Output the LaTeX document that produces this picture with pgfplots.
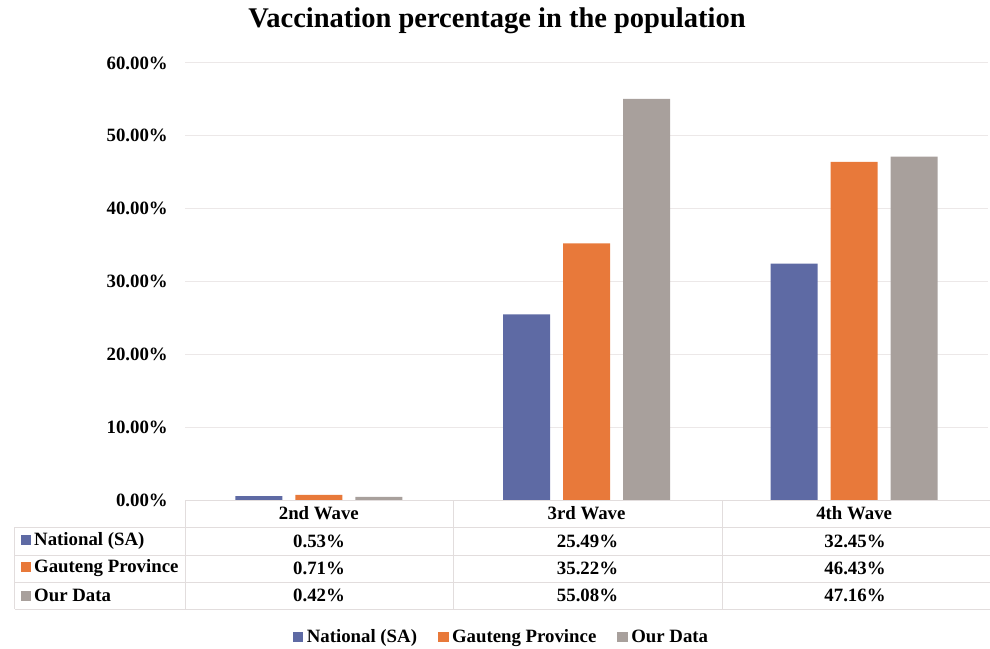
\documentclass[border=0pt]{standalone}
\usepackage{pgfplots}
\pgfplotsset{compat=1.18}
\usepackage{fontspec}
\setmainfont{Liberation Serif}
\definecolor{cBlue}{HTML}{5E6AA4}
\definecolor{cOrange}{HTML}{E8793A}
\definecolor{cGray}{HTML}{A8A09C}
\definecolor{cGrid}{HTML}{ECE8E8}
\definecolor{cLine}{HTML}{E2DDDD}
\newcommand{\lab}{\fontsize{18.8}{20}\selectfont\bfseries}
\begin{document}
\begin{tikzpicture}
\begin{axis}[
  at={(0pt,0pt)}, anchor=south west,
  scale only axis, width=803pt, height=437pt,
  xmin=-0.5, xmax=2.5, ymin=0, ymax=60,
  ybar=13pt, bar width=47pt,
  axis line style={draw=none},
  major tick length=0pt,
  ytick={0,10,...,60},
  ymajorgrids, grid style={cGrid, line width=1pt},
  yticklabel={\pgfmathprintnumber[fixed,fixed zerofill,precision=2,assume math mode=true]{\tick}\%},
  yticklabel style={font=\lab, anchor=east, inner sep=0pt, xshift=-17pt},
  xtick={0,1,2},
  xticklabels={2nd Wave,3rd Wave,4th Wave},
  xticklabel style={font=\lab, anchor=center, inner sep=0pt, yshift=-13pt},
  legend columns=3,
  legend style={at={(rel axis cs:0.3935,-0.3135)}, anchor=center, draw=none, fill=none,
    font=\lab, inner sep=0pt,
    /tikz/every even column/.append style={column sep=20pt},
    /tikz/every odd column/.append style={column sep=2.5pt},
    nodes={inner sep=1pt}},
]
\addplot[fill=cBlue, draw=none, legend image code/.code={\fill[cBlue] (0pt,-5pt) rectangle (10.5pt,5.5pt);}]
  coordinates {(0,0.53) (1,25.49) (2,32.45)};
\addplot[fill=cOrange, draw=none, legend image code/.code={\fill[cOrange] (0pt,-5pt) rectangle (10.5pt,5.5pt);}]
  coordinates {(0,0.71) (1,35.22) (2,46.43)};
\addplot[fill=cGray, draw=none, legend image code/.code={\fill[cGray] (0pt,-5pt) rectangle (10.5pt,5.5pt);}]
  coordinates {(0,0.42) (1,55.08) (2,47.16)};
\legend{National (SA),Gauteng Province,Our Data}
\end{axis}
\begin{scope}[shift={(-185pt,500pt)}, x=1pt, y=-1pt]
  % table lines
  \draw[cLine, line width=1pt] (185,500) -- (990,500);
  \foreach \yy in {527,555,582,609} \draw[cLine, line width=1pt] (15,\yy) -- (990,\yy);
  \draw[cLine, line width=1pt] (15,527) -- (15,609);
  \foreach \xx in {185,453,722} \draw[cLine, line width=1pt] (\xx,500) -- (\xx,609);
  % row labels
  \node[anchor=west, font=\lab, inner sep=0pt] at (21,541) {\textcolor{cBlue}{\rule[0.5pt]{10pt}{10pt}}\hspace{3pt}National (SA)};
  \node[anchor=west, font=\lab, inner sep=0pt] at (21,568.5) {\textcolor{cOrange}{\rule[0.5pt]{10pt}{10pt}}\hspace{3pt}Gauteng Province};
  \node[anchor=west, font=\lab, inner sep=0pt] at (21,595.5) {\textcolor{cGray}{\rule[0.5pt]{10pt}{10pt}}\hspace{3pt}Our Data};
  % values
  \node[font=\lab] at (319,541) {0.53\%};
  \node[font=\lab] at (587.5,541) {25.49\%};
  \node[font=\lab] at (855,541) {32.45\%};
  \node[font=\lab] at (319,568.5) {0.71\%};
  \node[font=\lab] at (587.5,568.5) {35.22\%};
  \node[font=\lab] at (855,568.5) {46.43\%};
  \node[font=\lab] at (319,595.5) {0.42\%};
  \node[font=\lab] at (587.5,595.5) {55.08\%};
  \node[font=\lab] at (855,595.5) {47.16\%};
  % title
  \node[font=\fontsize{28.5}{30}\selectfont\bfseries] at (497,21) {Vaccination percentage in the population};
\end{scope}
\pgfresetboundingbox
\path[use as bounding box] (-185pt,-148pt) rectangle (805pt,500pt);
\end{tikzpicture}
\end{document}
